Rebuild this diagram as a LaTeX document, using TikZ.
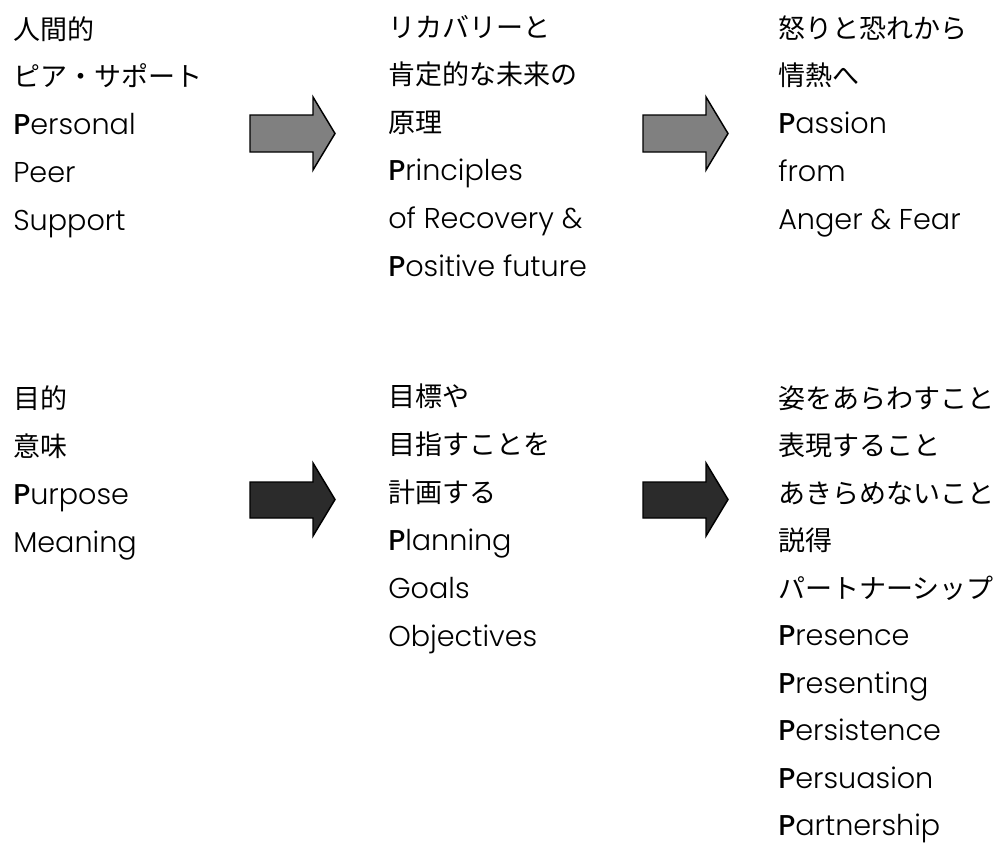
\documentclass[tikz,border=0pt]{standalone}
\usepackage{fontspec}
\newfontfamily\jp{Noto Sans CJK JP}
\newfontfamily\lat{Poppins}[UprightFont=* Light, BoldFont=* Medium]
\definecolor{arrgray}{HTML}{808080}
\definecolor{arrdark}{HTML}{2B2B2B}
\newcommand{\J}[1]{{\jp\fontsize{20.25pt}{24pt}\selectfont #1}}
\newcommand{\E}[1]{{\lat\fontsize{21.5pt}{24pt}\selectfont #1}}
\newcommand{\BP}{{\bfseries P}}
\tikzset{
  ln/.style={anchor=base west, inner sep=0pt, text=black},
  arrowshape/.style={draw=black, line width=1.1pt, line join=miter},
}
\begin{document}
\begin{tikzpicture}[x=0.75pt, y=-0.75pt]
\useasboundingbox (0,0) rectangle (1001,844);
% row 1, column 1
\node[ln] (a1) at (13,39) {\J{人間的}};
\node[ln] (a2) at (13,86.8) {\J{ピア・サポート}};
\node[ln] (a3) at (13,134.6) {\E{\BP ersonal}};
\node[ln] (a4) at (13,182.4) {\E{Peer}};
\node[ln] (a5) at (13,230.2) {\E{Support}};
% row 1, column 2
\node[ln] (b1) at (388,37) {\J{リカバリーと}};
\node[ln] (b2) at (388,84.8) {\J{肯定的な未来の}};
\node[ln] (b3) at (388,132.6) {\J{原理}};
\node[ln] (b4) at (388,180.4) {\E{\BP rinciples}};
\node[ln] (b5) at (388,228.2) {\E{of Recovery \&}};
\node[ln] (b6) at (388,276) {\E{\BP ositive future}};
% row 1, column 3
\node[ln] (c1) at (778,38) {\J{怒りと恐れから}};
\node[ln] (c2) at (778,85.8) {\J{情熱へ}};
\node[ln] (c3) at (778,133.6) {\E{\BP assion}};
\node[ln] (c4) at (778,181.4) {\E{from}};
\node[ln] (c5) at (778,229.2) {\E{Anger \& Fear}};
% row 2, column 1
\node[ln] (d1) at (13,408) {\J{目的}};
\node[ln] (d2) at (13,456) {\J{意味}};
\node[ln] (d3) at (13,504) {\E{\BP urpose}};
\node[ln] (d4) at (13,552) {\E{Meaning}};
% row 2, column 2
\node[ln] (e1) at (388,406) {\J{目標や}};
\node[ln] (e2) at (388,454) {\J{目指すことを}};
\node[ln] (e3) at (388,502) {\J{計画する}};
\node[ln] (e4) at (388,550) {\E{\BP lanning}};
\node[ln] (e5) at (388,598) {\E{Goals}};
\node[ln] (e6) at (388,646) {\E{Objectives}};
% row 2, column 3
\node[ln] (f1) at (778,408) {\J{姿をあらわすこと}};
\node[ln] (f2) at (778,455.5) {\J{表現すること}};
\node[ln] (f3) at (778,503) {\J{あきらめないこと}};
\node[ln] (f4) at (778,550.5) {\J{説得}};
\node[ln] (f5) at (778,598) {\J{パートナーシップ}};
\node[ln] (f6) at (778,645.5) {\E{\BP resence}};
\node[ln] (f7) at (778,693) {\E{\BP resenting}};
\node[ln] (f8) at (778,740.5) {\E{\BP ersistence}};
\node[ln] (f9) at (778,788) {\E{\BP ersuasion}};
\node[ln] (f10) at (778,835.5) {\E{\BP artnership}};
% arrows
\foreach \dx in {0,393}{
  \draw[arrowshape, fill=arrgray] (250+\dx,115) -- (313+\dx,115) -- (313+\dx,97) -- (335+\dx,133.5) -- (313+\dx,170) -- (313+\dx,152) -- (250+\dx,152) -- cycle;
  \draw[arrowshape, fill=arrdark] (250+\dx,482) -- (313+\dx,482) -- (313+\dx,463) -- (335+\dx,499.5) -- (313+\dx,536) -- (313+\dx,518) -- (250+\dx,518) -- cycle;
}
\end{tikzpicture}
\end{document}
